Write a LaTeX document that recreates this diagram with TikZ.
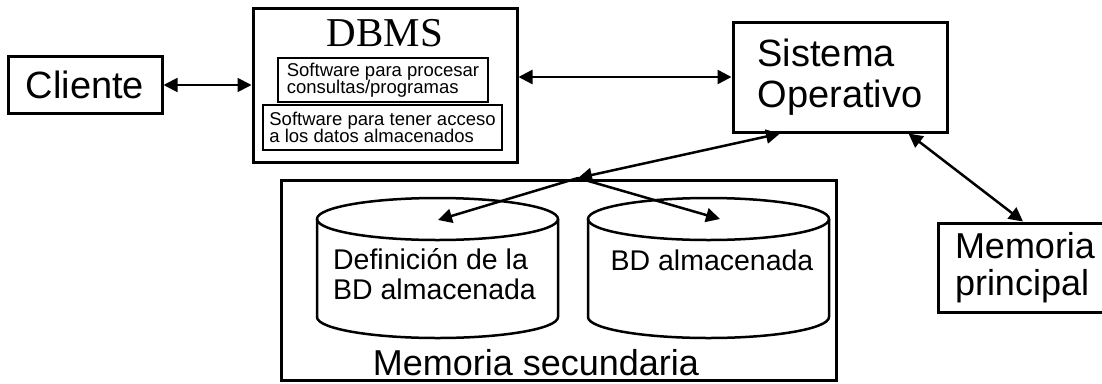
\documentclass[tikz,border=0pt]{standalone}
\usepackage{fontspec}
\setmainfont{Liberation Sans}
\newfontfamily\titlefont{Liberation Serif}
\usetikzlibrary{arrows.meta}

\tikzset{
  box/.style={draw, line width=3pt, inner sep=0pt},
  inbox/.style={draw, line width=1.8pt, inner sep=0pt, align=left,
    font=\fontsize{18.5}{17.5}\selectfont},
  link/.style={line width=2.5pt},
  bigfont/.style={font=\fontsize{38}{41}\selectfont},
  midfont/.style={font=\fontsize{36}{37}\selectfont},
  cylfont/.style={font=\fontsize{28.5}{30}\selectfont},
}

\begin{document}
\begin{tikzpicture}[x=1pt, y=-1pt, >={Triangle[length=14pt,width=14pt]}]
    \useasboundingbox (0,0) rectangle (1102,383);

    % Client
    \node[box, bigfont, minimum width=154pt, minimum height=57pt] (cli) at (85,85) {Cliente};

    % DBMS with its two software parts
    \node[box, minimum width=264pt, minimum height=154pt] (dbms) at (385,85) {};
    \node[font=\titlefont\fontsize{41}{42}\selectfont, anchor=base] (dbmsname) at (385,46) {DBMS};
    \node[inbox, minimum width=210pt, minimum height=44pt] (proc) at (383,80) {Software para procesar\\consultas/programas};
    \node[inbox, minimum width=239pt, minimum height=45pt] (acc) at (382.5,127.5) {Software para tener acceso\\a los datos almacenados};

    % Operating system
    \node[box, bigfont, align=left, minimum width=214pt, minimum height=110pt] (so) at (840,77) {Sistema\\Operativo};

    % Main memory
    \node[box, midfont, align=left, minimum width=174pt, minimum height=89pt] (mp) at (1025,267.5) {Memoria\\principal};

    % Secondary memory
    \node[box, minimum width=555pt, minimum height=200pt] (ms) at (558.5,280) {};
    \node[midfont, anchor=base] (msname) at (536,375) {Memoria secundaria};

    % Stored databases (cylinders)
    \draw[link] (317,219) -- (317,317) arc[start angle=180, end angle=0, x radius=120.5, y radius=21] -- (558,219);
    \draw[link] (437.5,219) ellipse [x radius=120.5, y radius=21];
    \draw[link] (588,219) -- (588,317) arc[start angle=180, end angle=0, x radius=120.5, y radius=21] -- (829,219);
    \draw[link] (708.5,219) ellipse [x radius=120.5, y radius=21];
    \node[cylfont, align=left] (def) at (434.5,274) {Definición de la\\BD almacenada};
    \node[cylfont] (bd) at (712,260) {BD almacenada};

    % Connection points
    \coordinate (jn) at (578,178);
    \coordinate (deftop) at (438,220);
    \coordinate (bdtop) at (720,219);

    % Connections
    \draw[<->, line width=1.8pt] (cli) -- (dbms);
    \draw[<->, link] (dbms.east |- so) -- (so.west);
    \draw[<->, link] ([xshift=-60pt]so.south) -- (jn);
    \draw[->, link] (jn) -- (deftop);
    \draw[->, link] (jn) -- (bdtop);
    \draw[<->, link] ([xshift=-40pt]so.south east) -- ([xshift=-2pt]mp.north);
\end{tikzpicture}
\end{document}
